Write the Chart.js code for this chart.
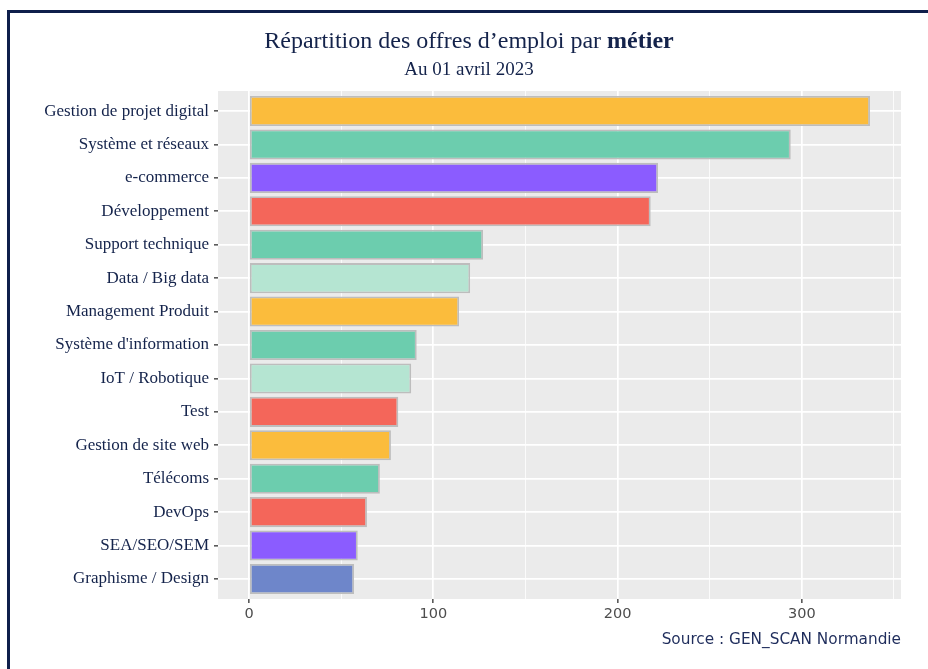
<!DOCTYPE html>
<html>
<head>
<meta charset="utf-8">
<script src="https://cdn.jsdelivr.net/npm/chart.js@4.4.0/dist/chart.umd.min.js"></script>
<style>
  body { margin: 0; background: #ffffff; }
  canvas { display: block; }
</style>
</head>
<body>
<canvas id="chart" width="928" height="669"></canvas>
<script>
// Job offers by profession, top to bottom
const categories = [
  'Gestion de projet digital', 'Système et réseaux', 'e-commerce', 'Développement',
  'Support technique', 'Data / Big data', 'Management Produit', "Système d'information",
  'IoT / Robotique', 'Test', 'Gestion de site web', 'Télécoms', 'DevOps',
  'SEA/SEO/SEM', 'Graphisme / Design'
];
const offers = [337, 294, 222, 218, 127, 120, 114, 91, 88, 81, 77, 71, 64, 59, 57];
const barColors = [
  '#FBBC3C', '#6CCDAE', '#8B5CFF', '#F4665A', '#6CCDAE', '#B5E5D2', '#FBBC3C', '#6CCDAE',
  '#B5E5D2', '#F4665A', '#FBBC3C', '#6CCDAE', '#F4665A', '#8B5CFF', '#6E86CA'
];
const xTicks = [0, 50, 100, 150, 200, 250, 300, 350];
const xLabelEvery = 100;

const titleText = 'Répartition des offres d\u2019emploi par ';
const titleBold = 'métier';
const subtitleText = 'Au 01 avril 2023';
const sourceText = 'Source : GEN_SCAN Normandie';

const NAVY = '#14234B';
const SERIF = "'Liberation Serif', 'Times New Roman', serif";
const SANS = "'DejaVu Sans', sans-serif";

// ggplot-like expansion: 5% on the value axis, 0.6 on the discrete axis
const maxVal = Math.max(...offers);
const xMin = -0.05 * maxVal;
const xMax = maxVal * 1.05;

const decorPlugin = {
  id: 'decor',
  beforeDraw(chart) {
    const ctx = chart.ctx;
    const a = chart.chartArea;
    ctx.save();
    ctx.fillStyle = '#ffffff';
    ctx.fillRect(0, 0, chart.width, chart.height);
    // frame (top and left edges only, rest cropped)
    ctx.fillStyle = '#0F1F4B';
    ctx.fillRect(7, 10, 3, chart.height - 10);
    ctx.fillRect(7, 10, chart.width - 7, 3);
    // panel
    ctx.fillStyle = '#EBEBEB';
    ctx.fillRect(a.left, a.top, a.right - a.left, a.bottom - a.top);
    ctx.restore();
  },
  afterDraw(chart) {
    const ctx = chart.ctx;
    ctx.save();
    ctx.fillStyle = NAVY;
    ctx.textBaseline = 'alphabetic';
    // title: regular part + bold part, centered together
    ctx.font = '24px ' + SERIF;
    const w1 = ctx.measureText(titleText).width;
    ctx.font = 'bold 24px ' + SERIF;
    const w2 = ctx.measureText(titleBold).width;
    const cx = 469;
    let x0 = cx - (w1 + w2) / 2;
    ctx.font = '24px ' + SERIF;
    ctx.textAlign = 'left';
    ctx.fillText(titleText, x0, 48);
    ctx.font = 'bold 24px ' + SERIF;
    ctx.fillText(titleBold, x0 + w1, 48);
    ctx.font = '19px ' + SERIF;
    ctx.textAlign = 'center';
    ctx.fillText(subtitleText, cx, 75);
    // caption
    ctx.font = '15.3px ' + SANS;
    ctx.textAlign = 'right';
    ctx.fillStyle = '#1F2D5C';
    ctx.fillText(sourceText, chart.chartArea.right, 644);
    ctx.restore();
  }
};

new Chart(document.getElementById('chart'), {
  type: 'bar',
  data: {
    datasets: [{
      data: offers.map((v, i) => ({ x: v, y: i })),
      backgroundColor: barColors,
      borderColor: '#BDBDBD',
      borderWidth: 1.8,
      borderSkipped: false,
      barPercentage: 0.9,
      categoryPercentage: 1.0
    }]
  },
  options: {
    indexAxis: 'y',
    responsive: false,
    animation: false,
    layout: { padding: { left: 0, top: 91, right: 27, bottom: 0 } },
    plugins: {
      legend: { display: false },
      tooltip: { enabled: false }
    },
    scales: {
      x: {
        type: 'linear',
        min: xMin,
        max: xMax,
        afterBuildTicks: (scale) => { scale.ticks = xTicks.map(v => ({ value: v })); },
        afterFit: (scale) => { scale.height = 70; },
        border: { display: false },
        grid: {
          color: '#ffffff',
          lineWidth: (c) => (c.tick && c.tick.value % xLabelEvery === 0 ? 1.7 : 0.8),
          tickColor: (c) => (c.tick && c.tick.value % xLabelEvery === 0 ? '#333333' : 'rgba(0,0,0,0)'),
          tickWidth: 1.3,
          tickLength: 4
        },
        ticks: {
          autoSkip: false,
          maxRotation: 0,
          padding: 3,
          color: '#4D4D4D',
          font: { family: SANS, size: 14.5 },
          callback: (v) => (v % xLabelEvery === 0 ? String(v) : '')
        }
      },
      y: {
        type: 'linear',
        reverse: true,
        offset: false,
        min: -0.6,
        max: categories.length - 1 + 0.6,
        afterBuildTicks: (scale) => { scale.ticks = categories.map((c, i) => ({ value: i })); },
        afterFit: (scale) => { scale.width = 218; },
        border: { display: false },
        grid: {
          offset: false,
          color: '#ffffff',
          lineWidth: 1.7,
          tickColor: '#333333',
          tickWidth: 1.3,
          tickLength: 4
        },
        ticks: {
          autoSkip: false,
          padding: 5,
          color: NAVY,
          font: { family: SERIF, size: 17 },
          callback: (v) => categories[v]
        }
      }
    }
  },
  plugins: [decorPlugin]
});
</script>
</body>
</html>
